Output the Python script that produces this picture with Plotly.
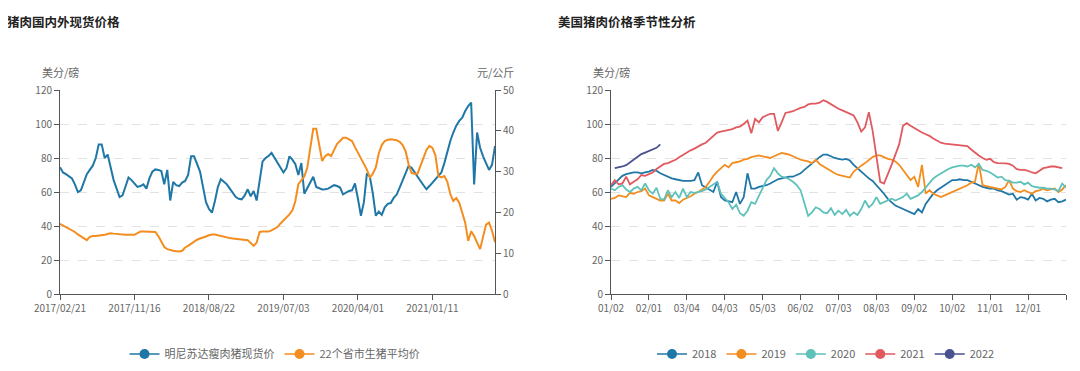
import plotly.graph_objects as go

# ---------------- data: left chart (trading-day index) ----------------
left_tick_labels = ["2017/02/21", "2017/11/16", "2018/08/22", "2019/07/03", "2020/04/01", "2021/01/11"]
left_tick_index = [0, 25, 50, 75, 100, 125]
left_last_index = 146

mn_lean_hog = [
    74.5, 71.5, 70.5, 69.5, 68, 64.5, 60, 61, 66, 70.5,
    73, 75.5, 80, 88, 88, 80, 82, 74, 67, 62,
    57, 58, 64, 68.5, 67, 65, 63, 63.5, 64.5, 62,
    68, 72, 73.3, 73, 72.3, 64.5, 73, 55, 66, 64,
    63.5, 65.5, 66.5, 70, 81, 81, 76, 72, 63, 54,
    50, 47.8, 54.7, 63, 67.5, 66, 64.5, 62, 59.6, 57,
    56, 55.7, 58, 61.6, 57.5, 60.6, 55, 66, 78, 80,
    81.2, 83, 80, 77.5, 74.5, 71.5, 74, 81, 79, 76.3,
    70, 77, 59, 62.5, 65.5, 69, 63, 62, 61.5, 61.6,
    62, 63, 64, 63.5, 62.6, 58.6, 59.5, 60.6, 61, 65,
    56, 46, 54, 71, 69, 59, 46, 48.5, 46.5, 51,
    53, 53.5, 56.5, 58.5, 62.6, 67, 70.4, 75.3, 74.3, 71.5,
    69.4, 66.5, 64, 61.6, 63.5, 65.5, 67.5, 69.4, 71.5, 77,
    84, 90, 95, 99, 101.8, 103.7, 107.6, 110.6, 112.6, 64.5,
    95, 86, 81, 77, 73, 76, 87,
]

cn_hog_22 = [
    17.2, 16.8, 16.5, 16.2, 15.8, 15.2, 14.6, 14.2, 13.8, 13.2,
    14, 14.2, 14.2, 14.3, 14.3, 14.5, 14.7, 14.9, 14.8, 14.7,
    14.6, 14.6, 14.5, 14.5, 14.5, 14.5, 14.9, 15.3, 15.3, 15.3,
    15.3, 15.3, 15.2, 14.2, 12.7, 11.5, 11, 10.7, 10.6, 10.5,
    10.4, 10.6, 11.4, 11.8, 12.3, 13, 13.3, 13.6, 13.8, 14.1,
    14.4, 14.6, 14.6, 14.4, 14.2, 14, 13.8, 13.7, 13.6, 13.5,
    13.4, 13.3, 13.2, 13.2, 12.5, 11.8, 12.6, 15.2, 15.3, 15.3,
    15.3, 15.6, 16, 16.4, 17.3, 18, 18.7, 19.5, 20.5, 22.8,
    26.9, 28, 28.8, 31, 36, 40.5, 40.5, 36, 32.6, 33.8,
    34.3, 33.8, 35.5, 36.8, 37.5, 38.3, 38.3, 37.8, 37.5, 36,
    34.6, 33.5, 32.2, 30.5, 28.5, 29.5, 31, 34.5, 36.5, 37.5,
    37.8, 37.9, 37.8, 37.7, 37.3, 36.5, 35, 31.8, 29.7, 29.5,
    29.5, 31.5, 33.5, 35.3, 36.3, 35.8, 34, 28.9, 28.6, 28.9,
    27.5, 24.5, 22.8, 23.5, 22.4, 20, 17.5, 13, 15.4, 14.2,
    12.5, 11, 14, 17, 17.5, 15.5, 12.7,
]

# ---------------- data: right chart (seasonal, tenths of a month) ----------------
season_tick_labels = ["01/02", "02/01", "03/04", "04/03", "05/03", "06/02",
                      "07/03", "08/03", "09/02", "10/02", "11/01", "12/01"]
season_tick_index = [0, 10, 20, 30, 40, 50, 60, 70, 80, 90, 100, 110]
season_last_index = 120

us_2018 = [
    63, 65, 67, 69.5, 70.5, 71, 71.5, 71.5, 71, 71.5,
    72, 73, 72.5, 71, 70, 69, 68, 67.5, 67, 66.5,
    66.5, 66.5, 67, 71.5, 64, 62.5, 61.5, 60, 66, 57,
    55, 54.5, 54, 60, 53, 57, 71, 62, 62, 63,
    63.5, 64, 65, 66.5, 67.5, 68, 68.5, 69, 69, 70,
    71, 73, 75, 77, 79, 80.5, 82, 82, 81, 80,
    79.5, 79, 79.5, 78.5, 76, 74, 71.5, 69.5, 68, 66.5,
    64, 62, 59, 56, 54, 52, 51, 50, 49, 48,
    47, 50, 48, 53, 56, 59, 61, 62.5, 64, 66,
    67, 67, 67.5, 67, 67, 66, 65, 64, 63, 62.5,
    62, 62, 61, 60.5, 59.5, 58.5, 59, 55.5, 57, 56.5,
    55.5, 59, 55, 56.5, 56, 54.5, 55.5, 56, 54, 54.5,
    55.5,
]

us_2019 = [
    56, 56.5, 58, 57.5, 57, 59.5, 59, 60, 60.5, 62,
    58, 57, 56, 55, 55, 59, 55, 55, 53.5, 55.5,
    56.5, 57.5, 59, 60, 61.5, 63, 66, 69.5, 72, 74,
    76, 74.5, 77, 77.5, 78, 79, 79.5, 80.5, 81, 81.5,
    81, 80.5, 80, 81, 82, 83, 82.5, 82, 81, 80,
    79, 78.5, 78, 77, 79, 76.5, 75, 74, 72.5, 71,
    70, 69.5, 69, 68.5, 72, 74, 75.5, 77, 79, 80.5,
    81.5, 81.5, 80.5, 79.5, 79, 78, 76, 73, 70.5, 67,
    69, 63, 76, 59, 61, 59, 58, 57, 58, 59,
    60, 61, 62, 63, 64, 65.5, 66, 77, 64, 63.5,
    63, 62.5, 62, 61.5, 63, 67, 62, 60.5, 60, 61,
    60, 59, 60.5, 61, 62, 61, 61.5, 62, 60, 61.5,
    64,
]

us_2020 = [
    62, 61, 63, 64, 61.5, 60, 62, 63, 61, 65,
    61, 59, 62.5, 56, 55.5, 61, 57, 60, 56.5, 62,
    57, 60, 59.5, 60, 60.5, 61.5, 63, 64, 66, 59,
    56.5, 54, 50, 52.5, 47.5, 46, 49, 54, 53, 58,
    62, 67, 69.5, 74, 71, 69, 68.5, 67.5, 66, 64,
    61, 53, 46, 48, 51, 50, 48, 47.5, 50.5, 46.5,
    49, 47, 49.5, 46, 48, 46.5, 50, 55, 51, 53,
    57, 53, 54, 55, 56, 55, 56, 57, 59, 56,
    57, 58, 60, 62.5, 65.5, 68, 69.5, 71, 72.5, 73.5,
    74.5, 75, 75.5, 75.5, 75, 76, 74.5, 76.5, 73, 72.5,
    71.5, 70, 68.5, 69, 67, 66.5, 65.5, 65.5, 66, 64.5,
    65.5, 63.5, 63, 62.5, 62.5, 62, 62, 61.5, 60.5, 65,
    62.5,
]

us_2021 = [
    64, 67, 64.5, 65, 69, 64.5, 66, 67.5, 70, 69.5,
    70.5, 71.5, 73.5, 75, 76.5, 77, 78, 79, 80.5, 82,
    83, 84.5, 85.5, 87, 88, 89, 91, 92.5, 95, 95.5,
    96, 96.5, 97, 98, 98.5, 100, 102, 94.5, 103, 101,
    104, 105, 106, 106, 96, 101, 106.5, 107, 107.5, 108.5,
    109.5, 110, 111.5, 112, 112, 112.5, 114, 113, 111.5, 110,
    109, 108, 107, 106, 105, 101, 95.5, 98, 107, 96,
    82, 66, 65, 70, 76, 82, 88, 99, 100.5, 99,
    97.5, 96, 95, 94, 93, 91.5, 90, 89, 88.5, 88.3,
    88, 87.8, 87.5, 87.3, 87, 85, 83, 81.5, 80, 79,
    79.5, 77.5, 77, 77, 76.8, 76.5, 75.5, 73.5, 73, 73,
    72.5, 71.5, 71, 72.5, 74, 74.5, 75, 75, 74.5, 74,
]

us_2022_start = 1
us_2022 = [74, 74.3, 75, 75.8, 77.5, 79, 81, 82.3, 83.2, 84, 84.8, 86, 88]

# ---------------- styles ----------------
FONT = "Noto Sans CJK SC"
C_BLUE = "#1f77a7"
C_ORANGE = "#f48d1f"
C_TEAL = "#5ec1ba"
C_RED = "#e05a60"
C_NAVY = "#4a5190"
AXIS_C = "#555555"
LABEL_C = "#666666"
GRID_C = "#e2e2e2"

W, H = 1080, 371
OFFSET = 8  # page body margin in the browser
L_X0, L_X1 = 60, 495
R_X0, R_X1 = 611, 1066
Y_TOP, Y_BOT = 90, 294


def px_x(p):
    return (p - OFFSET) / W


def px_y(p):
    return 1 - (p - OFFSET) / H


fig = go.Figure()

fig.add_trace(go.Scatter(x=list(range(len(mn_lean_hog))), y=mn_lean_hog, mode="lines", xaxis="x", yaxis="y",
                         line=dict(color=C_BLUE, width=2), showlegend=False, hoverinfo="skip"))
fig.add_trace(go.Scatter(x=list(range(len(cn_hog_22))), y=cn_hog_22, mode="lines", xaxis="x", yaxis="y2",
                         line=dict(color=C_ORANGE, width=2), showlegend=False, hoverinfo="skip"))

for name, col in [("明尼苏达瘦肉猪现货价", C_BLUE), ("22个省市生猪平均价", C_ORANGE)]:
    fig.add_trace(go.Scatter(x=[None], y=[None], mode="lines+markers", name=name, xaxis="x", yaxis="y",
                             line=dict(color=col, width=1.5), marker=dict(color=col, size=10),
                             legend="legend"))

season = [("2018", us_2018, C_BLUE), ("2019", us_2019, C_ORANGE), ("2020", us_2020, C_TEAL),
          ("2021", us_2021, C_RED)]
for name, vals, col in season:
    fig.add_trace(go.Scatter(x=list(range(len(vals))), y=vals, mode="lines", xaxis="x2", yaxis="y3",
                             line=dict(color=col, width=1.8), showlegend=False, hoverinfo="skip"))
fig.add_trace(go.Scatter(x=list(range(us_2022_start, us_2022_start + len(us_2022))), y=us_2022,
                         mode="lines", xaxis="x2", yaxis="y3",
                         line=dict(color=C_NAVY, width=1.8), showlegend=False, hoverinfo="skip"))

for name, col in [("2018", C_BLUE), ("2019", C_ORANGE), ("2020", C_TEAL), ("2021", C_RED), ("2022", C_NAVY)]:
    fig.add_trace(go.Scatter(x=[None], y=[None], mode="lines+markers", name=name, xaxis="x2", yaxis="y3",
                             line=dict(color=col, width=1.5), marker=dict(color=col, size=10),
                             legend="legend2"))

tickfont = dict(family=FONT, size=10, color=LABEL_C)
ydom = [px_y(Y_BOT), px_y(Y_TOP)]

common_x = dict(showline=True, linecolor=AXIS_C, linewidth=1, ticks="outside", ticklen=5,
                tickcolor=AXIS_C, showgrid=False, zeroline=False, tickfont=tickfont, automargin=False)
common_y = dict(showline=True, linecolor=AXIS_C, linewidth=1, ticks="outside", ticklen=5,
                tickcolor=AXIS_C, zeroline=False, tickfont=tickfont, automargin=False)

fig.update_layout(
    width=W, height=H,
    margin=dict(l=0, r=0, t=0, b=0, pad=0, autoexpand=False),
    paper_bgcolor="white", plot_bgcolor="white",
    font=dict(family=FONT, color=LABEL_C),
    xaxis=dict(domain=[px_x(L_X0), px_x(L_X1)], anchor="y", range=[0, left_last_index],
               tickmode="array", tickvals=left_tick_index, ticktext=left_tick_labels, **common_x),
    yaxis=dict(domain=ydom, anchor="x", range=[0, 120], dtick=20, showgrid=True,
               gridcolor=GRID_C, griddash="dash", gridwidth=1, **common_y),
    yaxis2=dict(overlaying="y", anchor="x", side="right", range=[0, 50], dtick=10, showgrid=False,
                **common_y),
    xaxis2=dict(domain=[px_x(R_X0), px_x(R_X1)], anchor="y3", range=[0, season_last_index],
                tickmode="array", tickvals=season_tick_index + [season_last_index],
                ticktext=season_tick_labels + [""], **common_x),
    yaxis3=dict(domain=ydom, anchor="x2", range=[0, 120], dtick=20, showgrid=True,
                gridcolor=GRID_C, griddash="dash", gridwidth=1, **common_y),
    legend=dict(orientation="h", x=px_x(275), xanchor="center", y=px_y(354), yanchor="middle",
                font=dict(family=FONT, size=11, color=LABEL_C), bgcolor="rgba(0,0,0,0)",
                itemwidth=30),
    legend2=dict(orientation="h", x=px_x(826), xanchor="center", y=px_y(354), yanchor="middle",
                 font=dict(family=FONT, size=11, color=LABEL_C), bgcolor="rgba(0,0,0,0)",
                 itemwidth=30),
    showlegend=True,
)

annos = [
    dict(text="猪肉国内外现货价格", x=px_x(5), y=px_y(22), xanchor="left",
         font=dict(family=FONT, size=12.5, color="#222222", weight=700)),
    dict(text="美国猪肉价格季节性分析", x=px_x(556), y=px_y(22), xanchor="left",
         font=dict(family=FONT, size=12.5, color="#222222", weight=700)),
    dict(text="美分/磅", x=px_x(L_X0), y=px_y(72), xanchor="center",
         font=dict(family=FONT, size=11, color=LABEL_C)),
    dict(text="元/公斤", x=px_x(L_X1), y=px_y(72), xanchor="center",
         font=dict(family=FONT, size=11, color=LABEL_C)),
    dict(text="美分/磅", x=px_x(R_X0), y=px_y(72), xanchor="center",
         font=dict(family=FONT, size=11, color=LABEL_C)),
]
for a in annos:
    a.update(xref="paper", yref="paper", yanchor="middle", showarrow=False)
fig.update_layout(annotations=annos)

fig.write_html("out.html")
